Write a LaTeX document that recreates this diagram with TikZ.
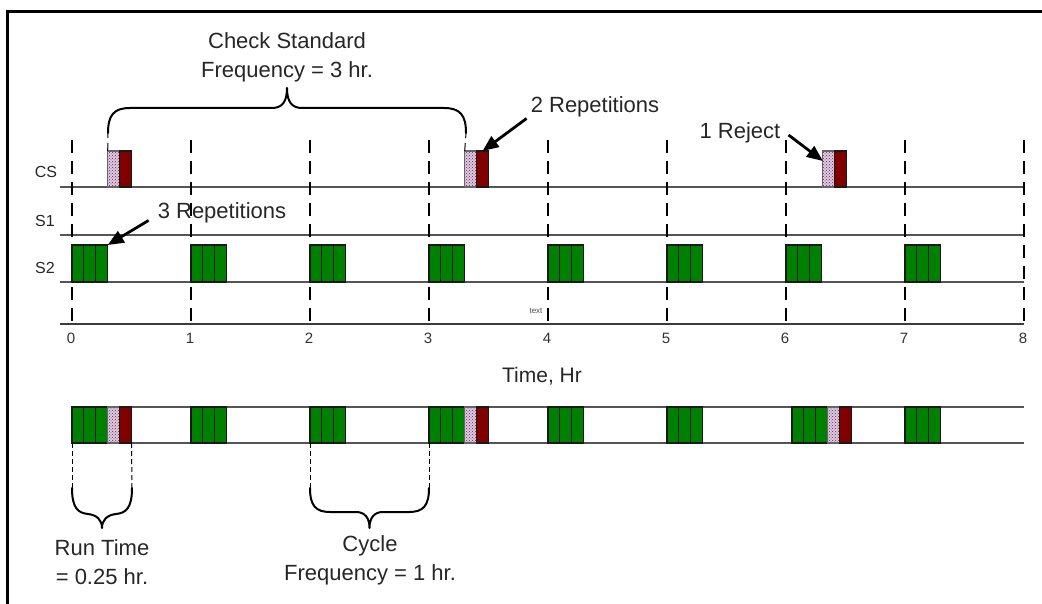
\documentclass[tikz,border=0pt]{standalone}
\usepackage{fontspec}
\setmainfont{Liberation Sans}
\usepackage{tikz}
\usetikzlibrary{positioning,arrows.meta,patterns}
\definecolor{repgreen}{RGB}{0,128,0}
\definecolor{rejred}{RGB}{128,0,0}
\definecolor{chklav}{RGB}{200,210,240}
\definecolor{rowgray}{RGB}{85,85,85}

\begin{document}
\begin{tikzpicture}[
  x=1pt, y=-1pt,
  % ── run blocks ───────────────────────────────────────────
  blk/.style={
    rectangle, draw=black!90, line width=1.1pt,
    inner sep=0pt, outer sep=0pt,
    minimum width=11.9pt, anchor=south west
  },
  rep/.style={blk, fill=repgreen, minimum height=37pt},
  brep/.style={rep, minimum height=36pt},
  chk/.style={blk, draw=black!60, minimum height=36pt,
    preaction={fill=chklav}, pattern=crosshatch dots,
    pattern color=red!80!black},
  rej/.style={blk, fill=rejred, minimum height=36pt},
  % ── line styles ──────────────────────────────────────────
  row/.style={line width=1.4pt, draw=rowgray},
  axisline/.style={line width=2.2pt, draw=rowgray!70!black},
  grid/.style={line width=1.4pt, dash pattern=on 13pt off 8pt},
  guide/.style={line width=1pt, dash pattern=on 5pt off 3pt},
  brc/.style={line width=2pt, line cap=round, line join=round},
  callout/.style={line width=2.8pt,
    -{Triangle[length=16pt,width=13pt]}},
  % ── labels ───────────────────────────────────────────────
  lbl/.style={font=\fontsize{22}{29}\selectfont, align=center,
    text=black!85, inner sep=1pt},
  rowlbl/.style={font=\fontsize{16}{18}\selectfont,
    text=black!85, inner sep=0pt},
  ticklbl/.style={font=\fontsize{15}{17}\selectfont,
    text=black!80, inner sep=0pt},
]
\useasboundingbox (0,0) rectangle (1042,604);

%% ── FRAME ────────────────────────────────────────────────────
\draw[line width=3pt] (7,604) -- (7,12) -- (1042,12);

%% ── ROW LINES ────────────────────────────────────────────────
\foreach \r/\y in {cs/187, sa/235, sb/282}{
  \coordinate (\r-w) at (60,\y);
  \coordinate (\r-e) at (1024,\y);
  \draw[row] (\r-w) -- (\r-e);}
\coordinate (ax-w) at (60,324);
\coordinate (ax-e) at (1024,324);
\draw[axisline] (ax-w) -- (ax-e);

\node[rowlbl] (lcs) at (46,172) {CS};
\node[rowlbl] (lsa) at (45,221) {S1};
\node[rowlbl] (lsb) at (45,268) {S2};

%% ── HOUR GRID + TICKS ────────────────────────────────────────
\foreach \t in {0,...,8}{
  \coordinate (g\t) at ({72+119*\t},140);
  \draw[grid] (g\t) -- (g\t |- ax-w);
  \node[ticklbl] (t\t) at ({71+119*\t},338) {\t};}
\node[font=\fontsize{8}{9}\selectfont, text=black!70, inner sep=0pt]
  (txt) at (536,311) {text};
\node[lbl, font=\fontsize{21}{26}\selectfont] (tlbl) at (542,376)
  {Time, Hr};

%% ── S2 RUNS (3 repetitions every hour) ───────────────────────
\foreach \t in {0,...,7}{
  \node[rep] (s\t-0) at ({72+119*\t},282) {};
  \node[rep, right=0pt of s\t-0] (s\t-1) {};
  \node[rep, right=0pt of s\t-1] (s\t-2) {};}

%% ── CHECK STANDARD RUNS ──────────────────────────────────────
\foreach \n/\t in {1/0.3, 2/3.3, 3/6.31}{
  \node[chk] (cs\n c) at ({72+119*\t},187) {};
  \node[rej, right=0pt of cs\n c] (cs\n r) {};}

%% ── COMBINED SEQUENCE ────────────────────────────────────────
\coordinate (bt-w) at (72,407);
\coordinate (bt-e) at (1024,407);
\coordinate (bb-w) at (72,443);
\coordinate (bb-e) at (1024,443);
\draw[row] (bt-e) -- (bt-w) -- (bb-w) -- (bb-e);
\foreach \n/\t in {0/0, 1/1, 2/2, 3/3, 4/4, 5/5, 6/6.05, 7/7}{
  \node[brep] (b\n-0) at ({72+119*\t},443) {};
  \node[brep, right=0pt of b\n-0] (b\n-1) {};
  \node[brep, right=0pt of b\n-1] (b\n-2) {};}
\foreach \n in {0,3,6}{
  \node[chk, right=0pt of b\n-2] (b\n-c) {};
  \node[rej, right=0pt of b\n-c] (b\n-r) {};}

%% ── BRACES ───────────────────────────────────────────────────
% check standard frequency
\coordinate (ck-l) at (108,133);
\coordinate (ck-r) at (466,133);
\draw[guide, dash pattern=on 8pt off 5pt] (cs1c.north west) -- (ck-l);
\draw[guide, dash pattern=on 8pt off 5pt] (cs2c.north west) -- (ck-r);
\draw[brc] (ck-l) .. controls (108,115) and (114,108) .. (130,108)
  -- (272,108) .. controls (282,108) and (287,102) .. (287,88)
  .. controls (287,102) and (292,108) .. (302,108)
  -- (444,108) .. controls (460,108) and (466,115) .. (ck-r);
\node[lbl] (cklbl) at (287,57) {Check Standard\\Frequency = 3 hr.};

% run time
\coordinate (rt-l) at (72,488);
\coordinate (rt-r) at (132,488);
\draw[guide] (b0-0.south west) -- (rt-l);
\draw[guide] (b0-r.south east) -- (rt-r);
\draw[brc] (rt-l) .. controls (72,508) and (78,513) .. (88,514)
  .. controls (97,515) and (102,520) .. (102,528)
  .. controls (102,520) and (107,515) .. (116,514)
  .. controls (126,513) and (132,508) .. (rt-r);
\node[lbl] (rtlbl) at (102,562) {Run Time\\= 0.25 hr.};

% cycle frequency
\coordinate (cy-l) at (310,488);
\coordinate (cy-r) at (429,488);
\draw[guide] (b2-0.south west) -- (cy-l);
\draw[guide] (b3-0.south west) -- (cy-r);
\draw[brc] (cy-l) .. controls (310,506) and (316,512) .. (330,512)
  -- (356,512) .. controls (365,512) and (369.5,518) .. (369.5,528)
  .. controls (369.5,518) and (374,512) .. (383,512)
  -- (409,512) .. controls (423,512) and (429,506) .. (cy-r);
\node[lbl] (cylbl) at (370,560) {Cycle\\Frequency = 1 hr.};

%% ── CALLOUTS ─────────────────────────────────────────────────
\node[lbl] (rep3) at (222,213) {3 Repetitions};
\draw[callout] ([xshift=-8pt,yshift=4pt]rep3.south west)
  -- (s0-2.north east);
\node[lbl] (rep2) at (595,107) {2 Repetitions};
\draw[callout] ([xshift=-3pt]rep2.south west) -- (cs2r.north);
\node[lbl] (rej1) at (740,133) {1 Reject};
\draw[callout] ([xshift=7pt,yshift=-2pt]rej1.east)
  -- ([yshift=-10pt]cs3c.north west);

\end{tikzpicture}
\end{document}
